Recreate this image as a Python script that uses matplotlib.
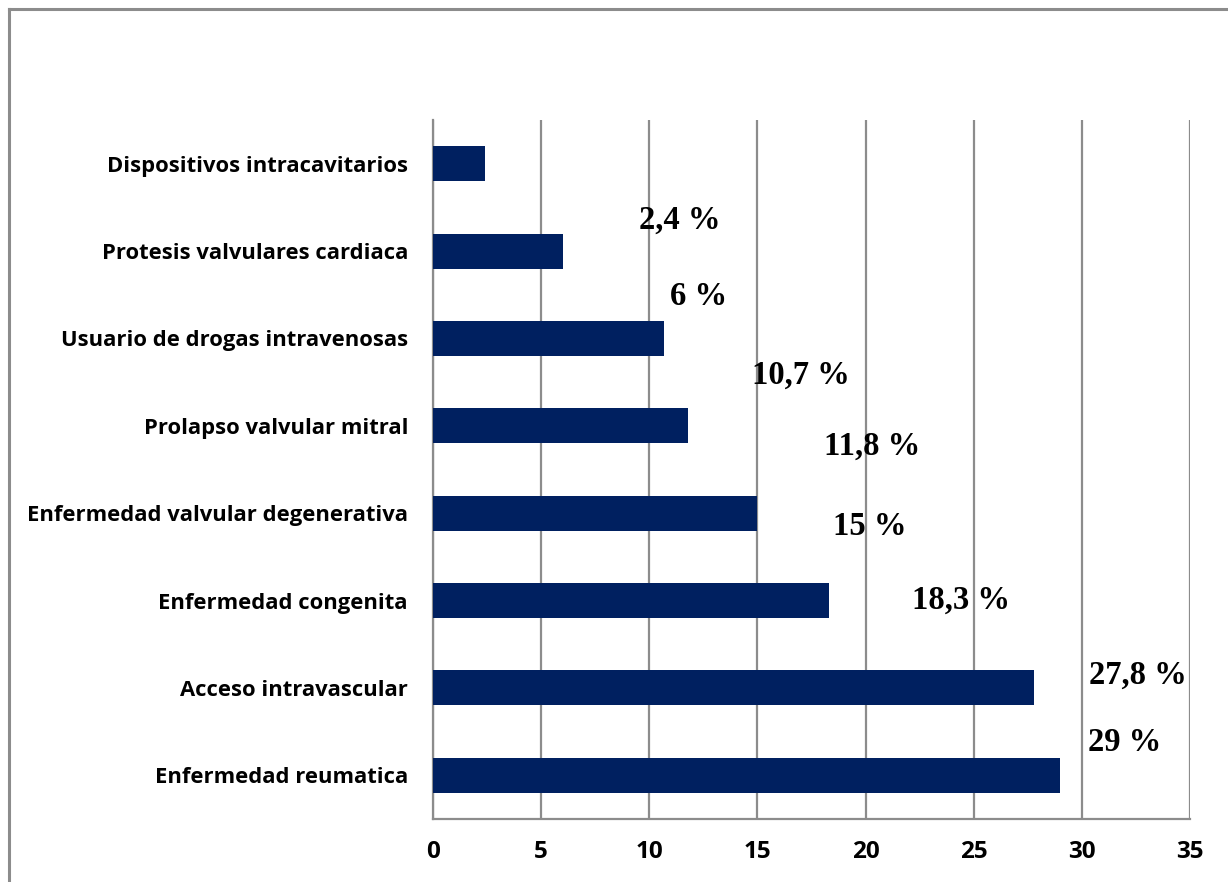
"""Horizontal bar chart of endocarditis risk factors."""

import matplotlib
matplotlib.use('Agg')
import matplotlib.pyplot as plt
from matplotlib.lines import Line2D
import numpy as np

# data

categories = ['Dispositivos intracavitarios',
              'Protesis valvulares cardiaca',
              'Usuario de drogas intravenosas',
              'Prolapso valvular mitral',
              'Enfermedad valvular degenerativa',
              'Enfermedad congenita',
              'Acceso intravascular',
              'Enfermedad reumatica']
values = [2.4, 6, 10.7, 11.8, 15, 18.3, 27.8, 29]
value_labels = ['2,4 %', '6 %', '10,7 %', '11,8 %', '15 %', '18,3 %', '27,8 %', '29 %']
xticks = [0, 5, 10, 15, 20, 25, 30, 35]

# where the value labels sit (x in data units, y offset in bar slots)
label_x = [11.4, 12.3, 17.0, 20.3, 20.2, 24.4, 32.6, 32.0]
label_dy = [0.65, 0.52, 0.42, 0.23, 0.15, 0.0, -0.15, -0.37]

grey = '#8c8c8c'
navy = '#002060'

fig = plt.figure(figsize=(12.28, 8.82), dpi=100)
ax = fig.add_axes([433 / 1228, 1 - 819 / 882, (1190 - 433) / 1228, (819 - 120) / 882])

y = np.arange(len(categories))
ax.barh(y, values, height=0.4, color=navy, zorder=3)

ax.set_ylim(len(categories) - 0.5, -0.5)
ax.set_xlim(0, 35)
ax.set_yticks(y)
ax.set_yticklabels(categories, fontfamily='Open Sans', fontweight='bold', fontsize=15.8)
ax.set_xticks(xticks)
ax.set_xticklabels([str(t) for t in xticks], fontfamily='Open Sans', fontweight='bold', fontsize=17.5)
ax.tick_params(axis='y', length=0, pad=18)
ax.tick_params(axis='x', length=0, pad=15)

ax.grid(True, axis='x', color=grey, linewidth=1.6, zorder=0)
for side in ['top', 'right']:
    ax.spines[side].set_visible(False)
for side in ['left', 'bottom']:
    ax.spines[side].set_color(grey)
    ax.spines[side].set_linewidth(1.6)

for i, lab in enumerate(value_labels):
    ax.text(label_x[i], y[i] + label_dy[i], lab, ha='center', va='center',
            fontfamily='Liberation Serif', fontweight='bold', fontsize=23.5, zorder=4)

# outer frame, left and top edges only
fig.add_artist(Line2D([9 / 1228, 9 / 1228], [0, 1 - 9 / 882], color=grey, linewidth=2.2))
fig.add_artist(Line2D([9 / 1228, 1], [1 - 9 / 882, 1 - 9 / 882], color=grey, linewidth=2.2))

plt.savefig('out.png', dpi=100)
